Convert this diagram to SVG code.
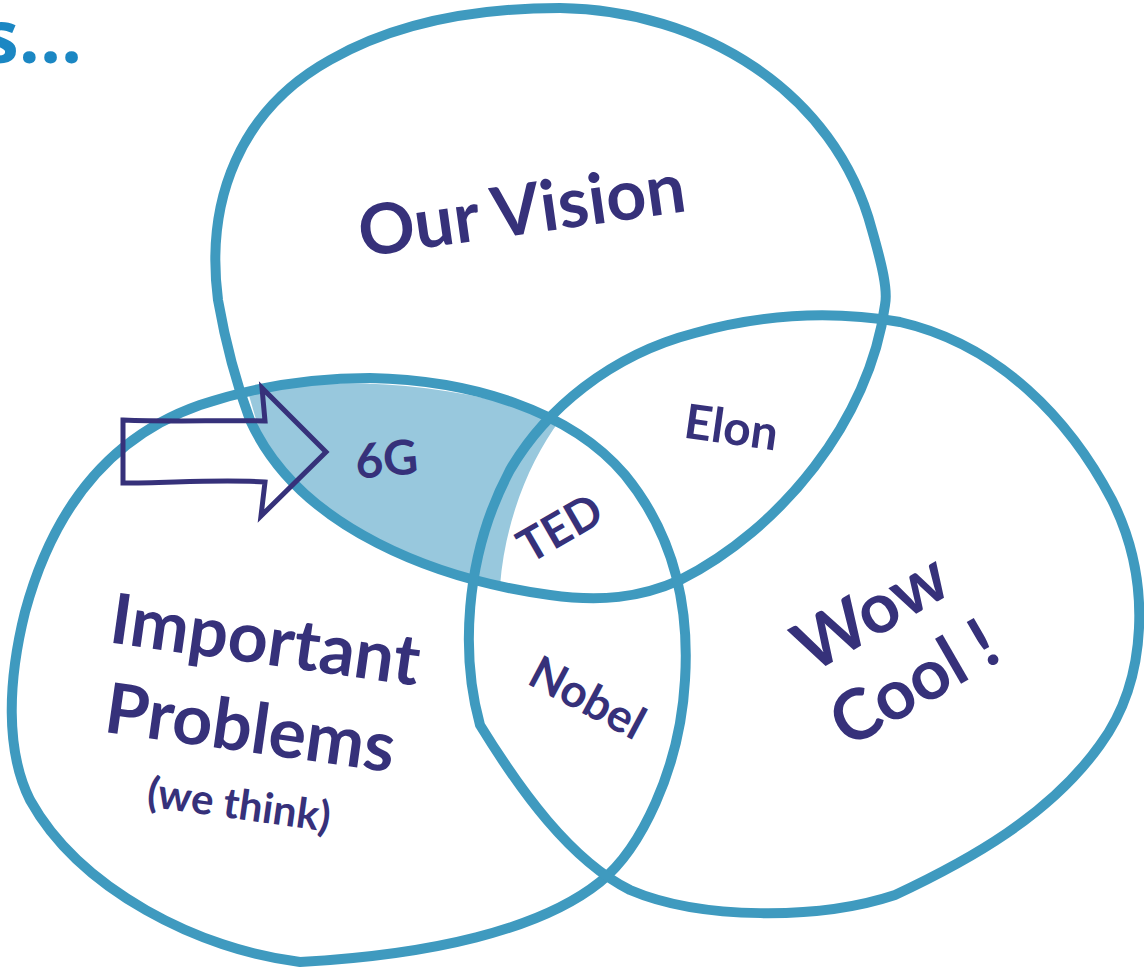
<svg xmlns="http://www.w3.org/2000/svg" width="1144" height="967" viewBox="0 0 1144 967">
<style>
.c{fill:none;stroke:#3f9abf;stroke-width:10;stroke-linejoin:round}
.t{font-family:Lato,"Open Sans","Liberation Sans",sans-serif;font-weight:700;fill:#36317a;text-anchor:middle}
.big{font-size:70px}
.mid{font-size:48px}
</style>
<rect width="1144" height="967" fill="#ffffff"/>
<text x="-18" y="63" font-family="Open Sans, Liberation Sans, sans-serif" font-weight="700" font-size="74" fill="#1b87c3">s...</text>
<g id="shade">
<path d="M 248 392 C 330 376, 450 380, 560 420 C 530 460, 505 520, 500 586 L 468 580 C 380 555, 300 505, 262 440 Z" fill="#98c8dd"/>
</g>
<g id="connectors">
<path id="vision" class="c" d="M 218 300 C 205 200, 240 110, 330 60 C 400 20, 480 8, 560 8 C 700 10, 835 90, 872 230 C 882 265, 888 290, 885 305 C 870 420, 780 530, 680 580 C 640 598, 600 602, 550 595 C 440 580, 300 530, 250 420 C 235 380, 225 340, 218 300 Z"/>
<path id="problems" class="c" d="M 25 612 C 50 520, 100 440, 200 405 C 260 385, 320 378, 370 378 C 470 380, 570 410, 625 475 C 670 530, 690 600, 685 680 C 680 770, 640 850, 600 882 C 540 930, 430 955, 300 962 C 200 950, 80 890, 30 800 C 5 750, 8 680, 25 612 Z"/>
<path id="wow" class="c" d="M 480 725 C 462 660, 462 560, 510 470 C 545 410, 610 355, 695 333 C 760 315, 830 310, 900 322 C 1000 345, 1070 420, 1112 500 C 1152 580, 1148 680, 1100 745 C 1050 815, 970 860, 895 895 C 820 920, 700 920, 630 890 C 570 860, 520 790, 480 725 Z"/>
</g>
<g id="arrow">
<path d="M 123 420 C 170 422, 220 420, 265 421 L 262 388 L 326 452 L 261 516 L 265 482 C 220 479, 170 483, 123 483 Z" fill="none" stroke="#36317a" stroke-width="5" stroke-linejoin="miter"/>
</g>
<g id="node-vision"><text class="t big" x="525" y="234" transform="rotate(-8 525 234)">Our Vision</text></g>
<g id="node-6g"><text class="t mid" x="388" y="476" transform="rotate(-5 388 476)">6G</text></g>
<g id="node-elon"><text class="t mid" x="729" y="444" transform="rotate(8 729 444)">Elon</text></g>
<g id="node-ted"><text class="t" font-size="46" x="568" y="542" transform="rotate(-30 568 542)">TED</text></g>
<g id="node-nobel"><text class="t" font-size="46" x="580" y="712" transform="rotate(28 580 712)">Nobel</text></g>
<g id="node-problems">
<text class="t big" x="262" y="664" transform="rotate(8 262 664)">Important</text>
<text class="t big" x="247" y="752" transform="rotate(8 247 752)">Problems</text>
<text class="t" font-size="42" x="237" y="819" transform="rotate(8 237 819)">(we think)</text>
</g>
<g id="node-wow">
<text class="t big" x="883" y="633" transform="rotate(-30 883 633)">Wow</text>
<text class="t big" x="926" y="704" transform="rotate(-30 926 704)">Cool !</text>
</g>
</svg>
